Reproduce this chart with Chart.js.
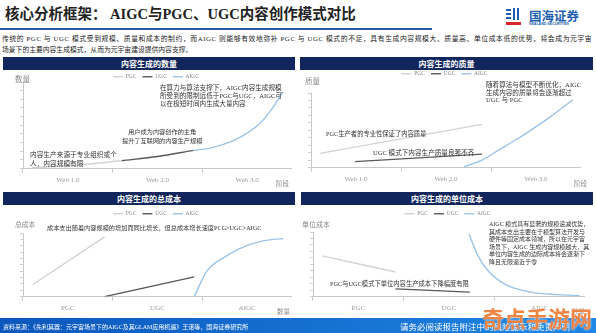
<!DOCTYPE html>
<html>
<head>
<meta charset="utf-8">
<script src="https://cdn.jsdelivr.net/npm/chart.js@4.4.1/dist/chart.umd.min.js"></script>
<style>
  body { margin: 0; background: #fff; }
  #page { position: relative; width: 596px; height: 333px; overflow: hidden; background: #fff;
    font-family: "Liberation Serif", "Noto Sans CJK SC", serif; color: #222; }
  .abs { position: absolute; white-space: nowrap; }
  .bar { position: absolute; background: #12265e; color: #fff; font-family: "Noto Sans CJK SC", sans-serif;
    font-size: 8px; font-weight: bold; text-align: center; line-height: 13px; height: 13px; }
  .note { position: absolute; white-space: nowrap; color: #333; }
  .axt { position: absolute; white-space: nowrap; color: #8a8a8a; font-family: "Noto Sans CJK SC", sans-serif; }
  canvas { position: absolute; }
</style>
</head>
<body>
<div id="page">
  <div class="abs" style="left:5px;top:4px;font-size:14.5px;font-weight:bold;line-height:20px;">核心分析框架： AIGC与PGC、UGC内容创作模式对比</div>
  <div class="abs" style="left:0;top:28px;width:432px;height:2px;background:#2a5aa8;"></div>

  <!-- logo -->
  <div class="abs" style="left:506px;top:9px;width:5px;height:2px;background:#1f5fb0;"></div>
  <div class="abs" style="left:506px;top:13px;width:5px;height:2px;background:#1f5fb0;"></div>
  <div class="abs" style="left:506px;top:17px;width:5px;height:2px;background:#1f5fb0;"></div>
  <div class="abs" style="left:513px;top:8px;width:2px;height:12px;background:#1f5fb0;"></div>
  <div class="abs" style="left:517px;top:8px;width:2px;height:12px;background:#1f5fb0;"></div>
  <div class="abs" style="left:506px;top:22px;width:15px;height:3px;background:#d8262c;"></div>
  <div class="abs" style="left:529px;top:8px;font-size:12.5px;font-weight:bold;color:#1f5fb0;line-height:15px;font-family:'Noto Sans CJK SC',sans-serif;">国海证券</div>
  <div class="abs" style="left:529px;top:22px;font-size:3.6px;font-weight:bold;color:#1f5fb0;line-height:5px;font-family:'Liberation Sans',sans-serif;">SEALAND SECURITIES</div>

  <div class="abs" style="left:2px;top:33px;font-size:6.8px;line-height:11px;color:#222;letter-spacing:0.6px;">传统的 PGC 与 UGC 模式受到规模、质量和成本的制约，而AIGC 则能够有效地弥补 PGC 与 UGC 模式的不足，具有生成内容规模大、质量高、单位成本低的优势，将会成为元宇宙</div>
  <div class="abs" style="left:2px;top:44px;font-size:6.8px;line-height:11px;color:#222;">场景下的主要内容生成模式，从而为元宇宙建设提供内容支撑。</div>

  <div class="bar" style="left:3px;top:57px;width:292px;">内容生成的数量</div>
  <div class="bar" style="left:300px;top:57px;width:293px;">内容生成的质量</div>
  <div class="bar" style="left:3px;top:192px;width:292px;">内容生成的总成本</div>
  <div class="bar" style="left:301px;top:192px;width:292px;">内容生成的单位成本</div>

  <canvas id="c1" width="272" height="119" style="left:20px;top:68px;"></canvas>
  <canvas id="c2" width="273" height="121" style="left:308px;top:65px;"></canvas>
  <canvas id="c3" width="272" height="110" style="left:20px;top:205px;"></canvas>
  <canvas id="c4" width="275" height="110" style="left:310px;top:205px;"></canvas>

  <div class="axt" style="left:15px;top:74px;font-size:7.5px;line-height:10px;">数量</div>
  <div class="axt" style="left:276px;top:178px;font-size:6.5px;line-height:10px;">阶段</div>
  <div class="axt" style="left:305px;top:76px;font-size:7.5px;line-height:10px;">质量</div>
  <div class="axt" style="left:574px;top:178px;font-size:6.5px;line-height:10px;">阶段</div>
  <div class="axt" style="left:15px;top:219px;font-size:6.8px;line-height:10px;">总成本</div>
  <div class="axt" style="left:277px;top:306px;font-size:6.5px;line-height:10px;">数量</div>
  <div class="axt" style="left:302px;top:219px;font-size:7px;line-height:10px;">单位成本</div>
  <div class="axt" style="left:572px;top:306px;font-size:6.5px;line-height:10px;">数量</div>

  <div class="note" style="left:160px;top:84px;font-size:6.6px;line-height:8px;">在算力与算法支撑下，AIGC内容生成规模<br>所受到的限制远低于PGC与UGC，AIGC可<br>以在极短时间内生成大量内容</div>
  <div class="note" style="left:122px;top:128px;font-size:6.2px;line-height:8.5px;text-align:center;">用户成为内容创作的主角<br>提升了互联网的内容生产规模</div>
  <div class="note" style="left:30px;top:150px;font-size:6.7px;line-height:9px;">内容生产来源于专业组织或个<br>人，内容规模有限</div>

  <div class="note" style="left:486px;top:81px;font-size:6.6px;line-height:7.6px;">随着算法与模型不断优化，AIGC<br>生成内容的质量将会逐渐超过<br>UGC 与 PGC</div>
  <div class="note" style="left:326px;top:130px;font-size:6.3px;line-height:8px;">PGC生产者的专业性保证了内容质量</div>
  <div class="note" style="left:373px;top:149px;font-size:6.6px;line-height:8px;">UGC 模式下内容生产质量良莠不齐</div>

  <div class="note" style="left:47px;top:224px;font-size:6.2px;line-height:8px;">成本支出随着内容规模的增加而同比增长，但总成本增长速度PCG&gt;UGC&gt;AIGC</div>

  <div class="note" style="left:489px;top:221px;font-size:6px;line-height:7.6px;">AIGC 模式具有显著的规模递减优势，<br>其成本支出主要在于模型算法开发与<br>硬件等固定成本领域，所以在元宇宙<br>场景下，AIGC 生成内容规模越大，其<br>单位内容生成的边际成本将会逐渐下<br>降且无限逼近于零</div>
  <div class="note" style="left:330px;top:280px;font-size:6.3px;line-height:8px;">PGC与UGC模式下单位内容生产成本下降幅度有限</div>

  <div class="abs" style="left:0;top:318px;width:596px;height:15px;background:linear-gradient(90deg,#0c57bd,#1e86e4);"></div>
  <div class="abs" style="left:3px;top:322px;font-size:6px;line-height:10px;color:#fff;">资料来源：《先利其器：元宇宙场景下的AIGC及其GLAM应用机遇》王诺等，国海证券研究所</div>
  <div class="abs" style="left:400px;top:321px;font-size:8.5px;line-height:11px;color:#fff;font-family:'Noto Sans CJK SC',sans-serif;">请务必阅读报告附注中的风险提示和免责声明</div>
  <div class="abs" style="left:586px;top:321px;font-size:8.5px;line-height:11px;color:#fff;">9</div>

  <div class="abs" style="left:482px;top:304px;font-size:22px;line-height:26px;font-weight:bold;color:rgba(236,120,48,0.9);font-family:'Noto Sans CJK SC',sans-serif;text-shadow:0 0 2px #fff;">奇点手游网</div>
</div>

<script>
const seriesNames = ['PGC', 'UGC', 'AIGC'];
const stageLabels = ['Web 1.0', 'Web 2.0', 'Web 3.0'];
const modeLabels = ['PGC', 'UGC', 'AIGC'];

// content quantity
const qtyPGC = [{x: 0.1, y: 0.1}, {x: 0.6, y: 0.4}, {x: 1.1, y: 0.9}];
const qtyUGC = [{x: 1.1, y: 0.9}, {x: 1.5, y: 1.4}, {x: 1.9, y: 2.1}];
const qtyAIGC = [{x: 1.9, y: 2.1}, {x: 2.1, y: 2.4}, {x: 2.34, y: 3.2}, {x: 2.5, y: 4.1},
                 {x: 2.64, y: 5.2}, {x: 2.79, y: 7.1}, {x: 2.9, y: 8.9}];

// content quality
const qualPGC = [{x: 0.1, y: 1.9}, {x: 1.9, y: 5.8}];
const qualUGC = [{x: 0.49, y: 0.8}, {x: 1.9, y: 1.8}];
const qualAIGC = [{x: 1.7, y: 0.1}, {x: 1.9, y: 1.0}, {x: 2.08, y: 2.3}, {x: 2.3, y: 3.9},
                  {x: 2.44, y: 5.0}, {x: 2.67, y: 6.9}, {x: 2.91, y: 9.1}];

// total cost
const totPGC = [{x: 0.11, y: 1.9}, {x: 0.91, y: 9.4}];
const totUGC = [{x: 0.91, y: 0}, {x: 1.91, y: 3.1}];
const totAIGC = [{x: 1.91, y: 0}, {x: 2.05, y: 4.0}, {x: 2.27, y: 6.4}, {x: 2.53, y: 8.2},
                 {x: 2.79, y: 9.0}, {x: 2.9, y: 9.1}];

// unit cost
const unitPGC = [{x: 0.1, y: 6.3}, {x: 0.91, y: 3.8}];
const unitUGC = [{x: 0.91, y: 1.2}, {x: 1.73, y: 0.7}];
const unitAIGC = [{x: 1.72, y: 9.7}, {x: 1.82, y: 6.3}, {x: 1.93, y: 4.0}, {x: 2.12, y: 1.9},
                  {x: 2.4, y: 0.7}, {x: 2.7, y: 0.3}, {x: 2.94, y: 0.15}];

const lineColors = ['#d3d3d3', '#595959', '#9dc3e6'];

Chart.defaults.font.family = '"Liberation Serif", "Noto Sans CJK SC", serif';
Chart.defaults.animation = false;

function makeChart(id, sets, xLabels, legendH) {
    const legendGap = {
        id: 'legendGap',
        beforeInit(chart) {
            const fit = chart.legend.fit;
            chart.legend.fit = function () {
                fit.call(this);
                this.height = legendH;
            };
        }
    };
    return new Chart(document.getElementById(id), {
        type: 'line',
        data: {
            datasets: sets.map((d, i) => ({
                label: seriesNames[i],
                data: d,
                borderColor: lineColors[i],
                backgroundColor: lineColors[i],
                borderWidth: 1.4,
                pointRadius: 0,
                cubicInterpolationMode: 'monotone',
                xAxisID: 'x',
                yAxisID: 'y'
            }))
        },
        options: {
            responsive: false,
            layout: { padding: 0 },
            scales: {
                x: { type: 'linear', min: 0, max: 3, display: false },
                xc: {
                    type: 'category',
                    labels: xLabels,
                    position: 'bottom',
                    offset: true,
                    grid: { offset: true, drawOnChartArea: false, tickLength: 4, color: '#c8c8c8' },
                    border: { color: '#c8c8c8' },
                    ticks: { color: '#9a9a9a', font: { size: 7 }, padding: 3, maxRotation: 0, autoSkip: false }
                },
                y: {
                    min: 0, max: 10,
                    ticks: { stepSize: 1, display: false },
                    grid: { drawOnChartArea: false, tickLength: 3, color: '#d0d0d0' },
                    border: { color: '#c8c8c8' }
                }
            },
            plugins: {
                legend: {
                    position: 'top',
                    labels: {
                        usePointStyle: true,
                        pointStyle: 'line',
                        pointStyleWidth: 10,
                        padding: 6,
                        color: '#888',
                        font: { size: 5.5 }
                    }
                },
                tooltip: { enabled: false }
            }
        },
        plugins: [legendGap]
    });
}

makeChart('c1', [qtyPGC, qtyUGC, qtyAIGC], stageLabels, 14);
makeChart('c2', [qualPGC, qualUGC, qualAIGC], stageLabels, 28);
makeChart('c3', [totPGC, totUGC, totAIGC], modeLabels, 28);
makeChart('c4', [unitPGC, unitUGC, unitAIGC], modeLabels, 27);
</script>
</body>
</html>
